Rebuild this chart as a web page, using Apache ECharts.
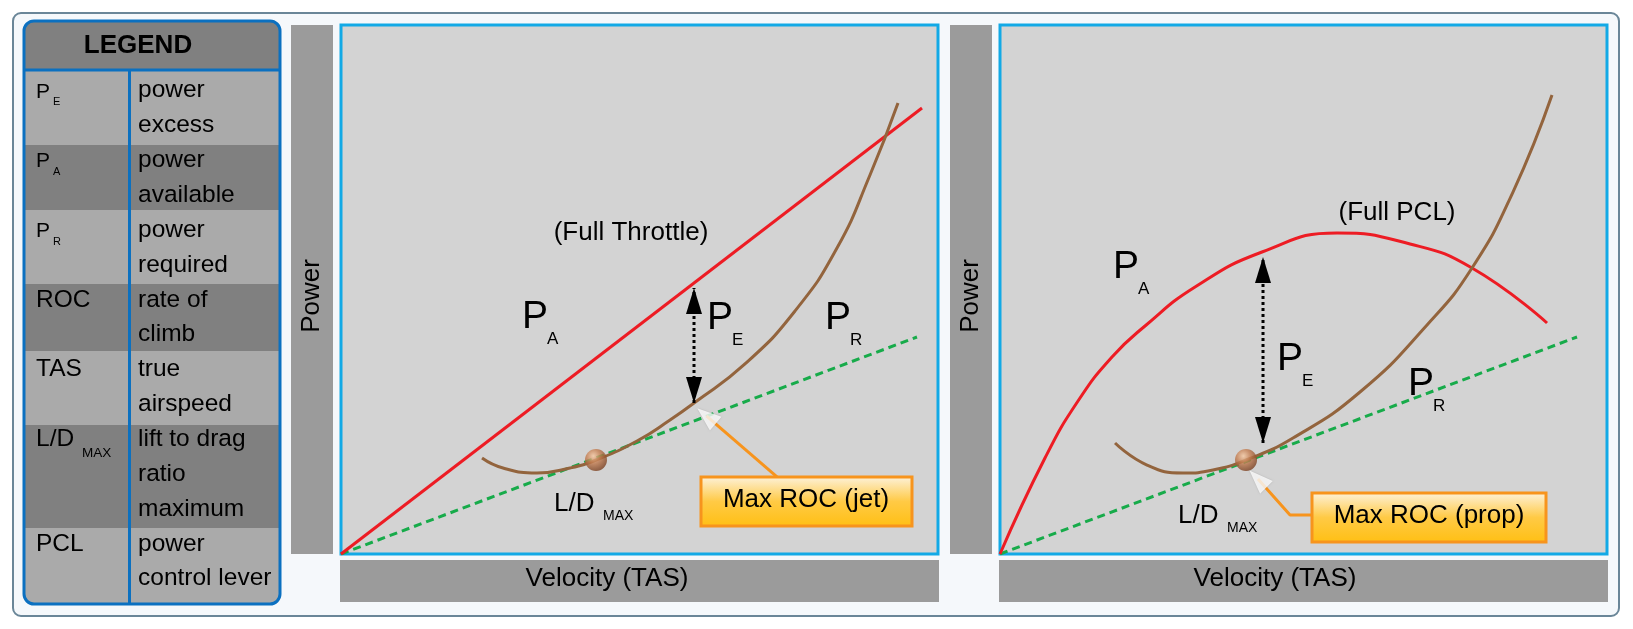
<!DOCTYPE html>
<html>
<head>
<meta charset="utf-8">
<script src="https://cdn.jsdelivr.net/npm/echarts@6.0.0/dist/echarts.min.js"></script>
<style>
  html, body { margin: 0; padding: 0; background: #ffffff; }
  #main { width: 1633px; height: 629px; }
</style>
</head>
<body>
<div id="main"></div>
<script>
// legend table texts
const legendAbbr = [['P', 'E'], ['P', 'A'], ['P', 'R'], ['ROC', ''], ['TAS', ''], ['L/D', 'MAX'], ['PCL', '']]
const legendDesc = [['power', 'excess'], ['power', 'available'], ['power', 'required'], ['rate of', 'climb'],
  ['true', 'airspeed'], ['lift to drag', 'ratio', 'maximum'], ['power', 'control lever']]

// jet chart (x: velocity 0-100, y: power 0-100)
const jetPA = [[0, 0], [97.32, 84.31]]
const jetPR = [[23.62, 18.15], [27.14, 16.26], [32.83, 15.31], [38.36, 16.26], [42.71, 17.77], [49.58, 21.36],
  [55.11, 25.33], [59.13, 28.54], [67.67, 35.92], [76.05, 45.94], [83.08, 57.84], [88.61, 71.64], [93.30, 85.26]]
const jetTangent = [[0, 0], [96.48, 41.02]]
const jetLDMax = [[42.71, 17.77]]
const jetPE = [[59.13, 28.54], [59.13, 50.3]]
const jetCallout = [[73.03, 14.56], [61.2, 26.1]]
const jetCalloutTip = [[61.22, 26.09]]

// prop chart
const propPA = [[0, 0], [7.41, 18.15], [12.85, 28.92], [18.45, 37.24], [23.89, 43.10], [32.13, 50.47],
  [43.16, 57.09], [55.52, 60.68], [67.55, 58.60], [77.76, 54.06], [90.12, 43.67]]
const propPR = [[18.95, 20.98], [24.22, 16.82], [30.15, 15.31], [35.09, 15.88], [40.53, 17.77], [48.27, 21.93],
  [59.31, 30.62], [70.35, 43.29], [77.76, 54.06], [84.51, 68.43], [90.94, 86.77]]
const propTangent = [[0, 0], [95.06, 41.02]]
const propLDMax = [[40.53, 17.77]]
const propPE = [[43.33, 20.98], [43.33, 56.14]]
const propCallout = [[51.40, 7.37], [47.78, 7.37], [42.5, 14.18]]
const propCalloutTip = [[42.5, 14.18]]

const FONT = '"Liberation Sans", Arial, sans-serif'

// text placed by left x and baseline
function txt (x, base, text, size, opt) {
  opt = opt || {}
  return {
    type: 'text',
    x: x,
    y: base - size * 0.34,
    z: opt.z || 50,
    rotation: opt.rotation || 0,
    style: {
      text: text,
      fontSize: size,
      fontFamily: FONT,
      fontWeight: opt.bold ? 'bold' : 'normal',
      fill: '#000',
      align: opt.align || 'left',
      verticalAlign: 'middle'
    }
  }
}
function rect (x, y, w, h, fill, opt) {
  opt = opt || {}
  return {
    type: 'rect',
    z: opt.z || 1,
    shape: {x: x, y: y, width: w, height: h, r: opt.r || 0},
    style: {fill: fill, stroke: opt.stroke || null, lineWidth: opt.lw || 0}
  }
}

const g = []
// outer panel
g.push(rect(13, 13, 1606, 603, '#f5f8fb', {z: -100, r: 8, stroke: '#6a8698', lw: 2}))

// legend table
const rowTops = [70, 145, 210, 284, 351, 425, 528, 604]
g.push(rect(24, 21, 256, 50, '#808080', {r: [10, 10, 0, 0]}))
g.push(txt(138, 55, 'LEGEND', 26, {bold: true, align: 'center'}))
let line = 0
legendDesc.forEach(function (desc, i) {
  const last = i === legendDesc.length - 1
  g.push(rect(24, rowTops[i], 256, rowTops[i + 1] - rowTops[i], i % 2 === 0 ? '#aaaaaa' : '#808080',
    {r: last ? [0, 0, 10, 10] : 0}))
  const base = 99 + line * 34.86
  const ab = legendAbbr[i]
  if (ab[0] === 'P') {
    g.push(txt(36, base, ab[0], 21, {z: 5}))
    g.push(txt(53, base + 7, ab[1], 11, {z: 5}))
  } else {
    g.push(txt(36, base, ab[0], 24.5, {z: 5}))
    if (ab[1]) g.push(txt(82, base + 10, ab[1], 13.5, {z: 5}))
  }
  desc.forEach(function (d, k) {
    g.push(txt(138, base + k * 34.86, d, 24.5, {z: 5}))
  })
  line += desc.length
})
g.push(rect(24, 21, 256, 583, 'none', {z: 10, r: 10, stroke: '#0b70c0', lw: 3}))
g.push({type: 'line', z: 10, shape: {x1: 24, y1: 70, x2: 280, y2: 70}, style: {stroke: '#0b70c0', lineWidth: 3}})
g.push({type: 'line', z: 10, shape: {x1: 129.5, y1: 70, x2: 129.5, y2: 604}, style: {stroke: '#0b70c0', lineWidth: 3}})

// axis title bars
g.push(rect(291, 25, 42, 529, '#9b9b9b'))
g.push(rect(950, 25, 42, 529, '#9b9b9b'))
g.push(rect(340, 560, 599, 42, '#9b9b9b'))
g.push(rect(999, 560, 609, 42, '#9b9b9b'))
g.push(txt(312, 296 + 8.8, 'Power', 26, {align: 'center', rotation: Math.PI / 2}))
g.push(txt(971, 296 + 8.8, 'Power', 26, {align: 'center', rotation: Math.PI / 2}))
g.push(txt(607, 588, 'Velocity (TAS)', 26, {align: 'center'}))
g.push(txt(1275, 588, 'Velocity (TAS)', 26, {align: 'center'}))

// plot labels
g.push(txt(631, 242, '(Full Throttle)', 26, {align: 'center'}))
g.push(txt(1397, 222, '(Full PCL)', 26, {align: 'center'}))
const bigP = [[522, 331, 'A'], [707, 332, 'E'], [825, 332, 'R'], [1113, 281, 'A'], [1277, 373, 'E'], [1408, 398, 'R']]
bigP.forEach(function (p) {
  g.push(txt(p[0], p[1], 'P', 39))
  g.push(txt(p[0] + 25, p[1] + 14, p[2], 17))
})
g.push(txt(554, 513, 'L/D', 26))
g.push(txt(603, 521, 'MAX', 14))
g.push(txt(1178, 525, 'L/D', 26))
g.push(txt(1227, 533, 'MAX', 14))

// callout boxes
const boxFill = {
  type: 'linear', x: 0, y: 0, x2: 0, y2: 1,
  colorStops: [{offset: 0, color: '#fdf3e0'}, {offset: 0.5, color: '#ffca45'}, {offset: 1, color: '#ffbf12'}]
}
g.push(rect(701, 477, 211, 49, boxFill, {z: 100, stroke: '#f7941d', lw: 3}))
g.push(txt(806, 509, 'Max ROC (jet)', 26, {align: 'center', z: 101}))
g.push(rect(1312, 493, 234, 49, boxFill, {z: 100, stroke: '#f7941d', lw: 3}))
g.push(txt(1429, 525, 'Max ROC (prop)', 26, {align: 'center', z: 101}))

const ball = {
  type: 'radial', x: 0.38, y: 0.32, r: 0.7,
  colorStops: [{offset: 0, color: '#f6c9a2'}, {offset: 0.45, color: '#c47d50'}, {offset: 1, color: '#7a3f1f'}]
}

function curve (data, idx, color, extra) {
  return Object.assign({
    type: 'line', xAxisIndex: idx, yAxisIndex: idx, data: data,
    symbol: 'none', showSymbol: false, silent: true,
    lineStyle: {color: color, width: 3}
  }, extra || {})
}
function arrowPE (pts, idx) {
  return {
    type: 'line', xAxisIndex: idx, yAxisIndex: idx, silent: true,
    data: [{value: pts[0], symbolRotate: 180, symbolOffset: [0, -13]},
      {value: pts[1], symbolRotate: 0, symbolOffset: [0, 13]}],
    symbol: 'triangle', symbolSize: [16, 26], showSymbol: true, showAllSymbol: true,
    itemStyle: {color: '#000'},
    lineStyle: {color: '#000', width: 3, type: 'dotted'}
  }
}
function tip (pts, idx, rot) {
  return {
    type: 'scatter', xAxisIndex: idx, yAxisIndex: idx, silent: true, data: pts, z: 6,
    symbol: 'triangle', symbolSize: [18, 24], symbolRotate: rot,
    itemStyle: {color: '#ffffff', shadowBlur: 2, shadowColor: 'rgba(0,0,0,0.2)'}
  }
}
function dot (pts, idx) {
  return {
    type: 'scatter', xAxisIndex: idx, yAxisIndex: idx, silent: true, data: pts, z: 5,
    symbolSize: 22, itemStyle: {color: ball}
  }
}

const axis = {type: 'value', min: 0, max: 100, show: false}
const gridStyle = {show: true, backgroundColor: '#d3d3d3', borderColor: '#12a9e6', borderWidth: 3}

const option = {
  animation: false,
  backgroundColor: 'transparent',
  grid: [
    Object.assign({left: 341, top: 25, width: 597, height: 529}, gridStyle),
    Object.assign({left: 1000, top: 25, width: 607, height: 529}, gridStyle)
  ],
  xAxis: [Object.assign({gridIndex: 0}, axis), Object.assign({gridIndex: 1}, axis)],
  yAxis: [Object.assign({gridIndex: 0}, axis), Object.assign({gridIndex: 1}, axis)],
  graphic: g,
  series: [
    curve(jetTangent, 0, '#17ab4a', {lineStyle: {color: '#17ab4a', width: 3, type: [8, 5]}}),
    curve(jetPA, 0, '#ed1c24'),
    curve(jetPR, 0, '#93643d', {smooth: 0.5}),
    arrowPE(jetPE, 0),
    curve(jetCallout, 0, '#f7941d'),
    tip(jetCalloutTip, 0, 50),
    dot(jetLDMax, 0),
    curve(propTangent, 1, '#17ab4a', {lineStyle: {color: '#17ab4a', width: 3, type: [8, 5]}}),
    curve(propPA, 1, '#ed1c24', {smooth: 0.5}),
    curve(propPR, 1, '#93643d', {smooth: 0.5}),
    arrowPE(propPE, 1),
    curve(propCallout, 1, '#f7941d'),
    tip(propCalloutTip, 1, 45),
    dot(propLDMax, 1)
  ]
}

const chart = echarts.init(document.getElementById('main'))
chart.setOption(option)
</script>
</body>
</html>
